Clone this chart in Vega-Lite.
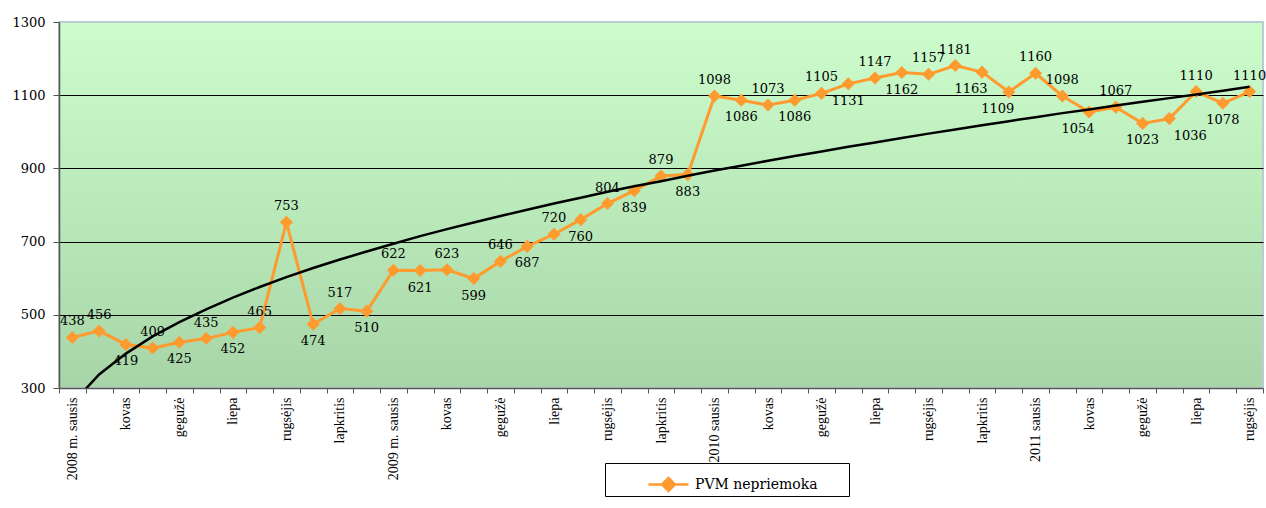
{
  "$schema": "https://vega.github.io/schema/vega-lite/v6.json",
  "autosize": {"type": "none"},
  "padding": {"left": 59, "top": 22, "right": 3, "bottom": 120},
  "width": 1204,
  "height": 366,
  "background": "white",
  "config": {
    "view": {
      "fill": {"gradient": "linear", "x1": 0, "y1": 0, "x2": 0, "y2": 1,
        "stops": [{"offset": 0, "color": "#CDFDCD"}, {"offset": 1, "color": "#A7D5A7"}]},
      "stroke": "#BCCCD4",
      "strokeWidth": 2
    },
    "axis": {"labelColor": "black", "domainColor": "#555555", "tickColor": "#555555", "title": null}
  },
  "data": {"values": [
    {"i": 1, "m": "2008-01", "v": 438, "t": 258},
    {"i": 2, "m": "2008-02", "v": 456, "t": 337},
    {"i": 3, "m": "2008-03", "v": 419, "t": 394},
    {"i": 4, "m": "2008-04", "v": 409, "t": 441},
    {"i": 5, "m": "2008-05", "v": 425, "t": 480},
    {"i": 6, "m": "2008-06", "v": 435, "t": 515},
    {"i": 7, "m": "2008-07", "v": 452, "t": 547},
    {"i": 8, "m": "2008-08", "v": 465, "t": 576},
    {"i": 9, "m": "2008-09", "v": 753, "t": 603},
    {"i": 10, "m": "2008-10", "v": 474, "t": 628},
    {"i": 11, "m": "2008-11", "v": 517, "t": 651},
    {"i": 12, "m": "2008-12", "v": 510, "t": 673},
    {"i": 13, "m": "2009-01", "v": 622, "t": 694},
    {"i": 14, "m": "2009-02", "v": 621, "t": 715},
    {"i": 15, "m": "2009-03", "v": 623, "t": 734},
    {"i": 16, "m": "2009-04", "v": 599, "t": 752},
    {"i": 17, "m": "2009-05", "v": 646, "t": 770},
    {"i": 18, "m": "2009-06", "v": 687, "t": 787},
    {"i": 19, "m": "2009-07", "v": 720, "t": 804},
    {"i": 20, "m": "2009-08", "v": 760, "t": 820},
    {"i": 21, "m": "2009-09", "v": 804, "t": 836},
    {"i": 22, "m": "2009-10", "v": 839, "t": 851},
    {"i": 23, "m": "2009-11", "v": 879, "t": 865},
    {"i": 24, "m": "2009-12", "v": 883, "t": 880},
    {"i": 25, "m": "2010-01", "v": 1098, "t": 894},
    {"i": 26, "m": "2010-02", "v": 1086, "t": 907},
    {"i": 27, "m": "2010-03", "v": 1073, "t": 921},
    {"i": 28, "m": "2010-04", "v": 1086, "t": 934},
    {"i": 29, "m": "2010-05", "v": 1105, "t": 946},
    {"i": 30, "m": "2010-06", "v": 1131, "t": 959},
    {"i": 31, "m": "2010-07", "v": 1147, "t": 971},
    {"i": 32, "m": "2010-08", "v": 1162, "t": 983},
    {"i": 33, "m": "2010-09", "v": 1157, "t": 995},
    {"i": 34, "m": "2010-10", "v": 1181, "t": 1006},
    {"i": 35, "m": "2010-11", "v": 1163, "t": 1018},
    {"i": 36, "m": "2010-12", "v": 1109, "t": 1029},
    {"i": 37, "m": "2011-01", "v": 1160, "t": 1040},
    {"i": 38, "m": "2011-02", "v": 1098, "t": 1051},
    {"i": 39, "m": "2011-03", "v": 1054, "t": 1061},
    {"i": 40, "m": "2011-04", "v": 1067, "t": 1072},
    {"i": 41, "m": "2011-05", "v": 1023, "t": 1082},
    {"i": 42, "m": "2011-06", "v": 1036, "t": 1092},
    {"i": 43, "m": "2011-07", "v": 1110, "t": 1102},
    {"i": 44, "m": "2011-08", "v": 1078, "t": 1112},
    {"i": 45, "m": "2011-09", "v": 1110, "t": 1123}
  ]},
  "encoding": {
    "x": {
      "field": "i", "type": "quantitative",
      "scale": {"domain": [0.5, 45.5], "nice": false, "zero": false},
      "axis": {
        "values": [0.5,1.5,2.5,3.5,4.5,5.5,6.5,7.5,8.5,9.5,10.5,11.5,12.5,13.5,14.5,15.5,16.5,17.5,18.5,19.5,20.5,21.5,22.5,23.5,24.5,25.5,26.5,27.5,28.5,29.5,30.5,31.5,32.5,33.5,34.5,35.5,36.5,37.5,38.5,39.5,40.5,41.5,42.5,43.5,44.5,45.5],
        "labelExpr": "(datum.value - 0.5) % 2 == 0 ? ['2008 m. sausis','kovas','gegužė','liepa','rugsėjis','lapkritis','2009 m. sausis','kovas','gegužė','liepa','rugsėjis','lapkritis','2010 sausis','kovas','gegužė','liepa','rugsėjis','lapkritis','2011 sausis','kovas','gegužė','liepa','rugsėjis'][(datum.value - 0.5) / 2] : ''",
        "labelAngle": 270, "labelAlign": "right", "labelBaseline": "middle",
        "labelOffset": 13.4, "labelPadding": 4, "labelOverlap": false, "labelBound": false, "labelFlush": false,
        "labelFont": "Liberation Serif", "labelFontSize": 14,
        "tickSize": 5, "tickWidth": 1, "domainWidth": 1.5, "grid": false
      }
    }
  },
  "layer": [
    {
      "mark": {"type": "line", "strokeWidth": 3, "clip": true,
        "point": {"shape": "diamond", "size": 170, "filled": true, "color": "#FF9A2E", "opacity": 1}},
      "encoding": {
        "y": {
          "field": "v", "type": "quantitative",
          "scale": {"domain": [300, 1300], "nice": false, "zero": false},
          "axis": {
            "values": [300, 500, 700, 900, 1100, 1300], "format": "d",
            "labelFont": "DejaVu Serif", "labelFontSize": 13, "labelPadding": 8,
            "tickSize": 6, "domainWidth": 1.5,
            "grid": true, "gridWidth": 1,
            "gridColor": {"condition": {"test": "datum.value == 300 || datum.value == 1300", "value": "transparent"}, "value": "black"}
          }
        },
        "color": {
          "datum": "PVM nepriemoka", "type": "nominal",
          "scale": {"range": ["#FF9A2E"]},
          "legend": {
            "title": "\u200b\u00a0\u00a0\u00a0\u00a0\u00a0\u00a0\u00a0\u00a0\u200b", "titleOrient": "left", "titleFontSize": 15, "titlePadding": 0, "titleFont": "DejaVu Serif",
            "orient": "none", "legendX": 546, "legendY": 441,
            "strokeColor": "black", "fillColor": "white", "padding": 0,
            "labelExpr": "datum.label + '\u00a0\u00a0\u00a0\u00a0\u00a0\u00a0\u00a0\u200b'", "labelLimit": 400,
            "symbolType": "M-1,0L-0.32,0M0.32,0L1,0M-0.32,0L0,-0.32L0.32,0L0,0.32Z",
            "symbolSize": 1600, "symbolStrokeWidth": 2.5,
            "labelFont": "DejaVu Serif", "labelFontSize": 14, "labelColor": "black", "labelOffset": 5,
            "encode": {"symbols": {"update": {"fill": {"value": "#FF9A2E"}, "stroke": {"value": "#FF9A2E"}, "opacity": {"value": 1}}}}
          }
        }
      }
    },
    {
      "mark": {"type": "line", "color": "black", "strokeWidth": 2.5, "clip": true},
      "encoding": {"y": {"field": "t", "type": "quantitative"}}
    },
    {
      "transform": [{"filter": {"field": "i", "oneOf": [1,2,4,6,8,9,11,13,15,17,19,21,23,25,27,29,31,33,34,37,38,40,43,45]}}],
      "mark": {"type": "text", "font": "DejaVu Serif", "fontSize": 13, "color": "black", "dy": -16},
      "encoding": {"y": {"field": "v", "type": "quantitative"}, "text": {"field": "v", "type": "quantitative"}}
    },
    {
      "transform": [{"filter": {"field": "i", "oneOf": [3,5,7,10,12,14,16,18,20,22,24,26,28,30,32,41,44]}}],
      "mark": {"type": "text", "font": "DejaVu Serif", "fontSize": 13, "color": "black", "dy": 17},
      "encoding": {"y": {"field": "v", "type": "quantitative"}, "text": {"field": "v", "type": "quantitative"}}
    },
    {
      "transform": [{"filter": {"field": "i", "oneOf": [35,36,39]}}],
      "mark": {"type": "text", "font": "DejaVu Serif", "fontSize": 13, "color": "black", "dy": 17, "dx": -11},
      "encoding": {"y": {"field": "v", "type": "quantitative"}, "text": {"field": "v", "type": "quantitative"}}
    },
    {
      "transform": [{"filter": {"field": "i", "oneOf": [42]}}],
      "mark": {"type": "text", "font": "DejaVu Serif", "fontSize": 13, "color": "black", "dy": 17, "dx": 21},
      "encoding": {"y": {"field": "v", "type": "quantitative"}, "text": {"field": "v", "type": "quantitative"}}
    }
  ]
}
